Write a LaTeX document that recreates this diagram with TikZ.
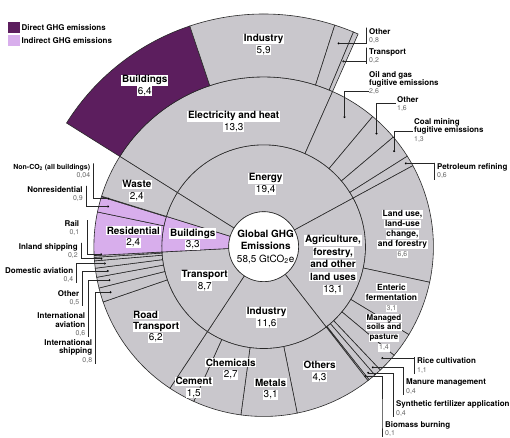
\documentclass[tikz,border=0pt]{standalone}
\usepackage{fontspec}
\setmainfont{TeX Gyre Heros}
\definecolor{secgrey}{RGB}{201,199,204}
\definecolor{dirpurple}{RGB}{92,30,94}
\definecolor{indpurple}{RGB}{216,174,236}
\definecolor{edgeline}{RGB}{40,40,40}
\definecolor{valgrey}{RGB}{105,105,105}
% annular sector: style, inner radius, outer radius, start angle, end angle
\newcommand\annul[5]{\path[#1] (#4:#2) arc[start angle=#4,end angle=#5,radius=#2] -- (#5:#3) arc[start angle=#5,end angle=#4,radius=#3] -- cycle;}
\newcommand\wl[1]{\colorbox{white}{#1}}
\newcommand\valf{\fontsize{7}{8}\selectfont\mdseries\color{valgrey}}
\setlength\fboxsep{0.7pt}
\tikzset{
  sec/.style={fill=secgrey,draw=edgeline,line width=0.6bp},
  secdir/.style={fill=dirpurple,draw=edgeline,line width=0.6bp},
  secind/.style={fill=indpurple,draw=edgeline,line width=0.6bp},
  inl/.style={align=center,inner sep=0pt,font=\fontsize{10}{11.5}\selectfont},
  smin/.style={align=center,inner sep=0pt,font=\fontsize{8.5}{10}\selectfont},
  olab/.style={inner sep=0.5bp,font=\fontsize{8}{8.3}\selectfont\bfseries},
  olabL/.style={olab,align=left,anchor=west},
  olabR/.style={olab,align=right,anchor=east},
  lead/.style={draw=black!85,line width=0.5bp},
  dotm/.style={fill=black,circle,inner sep=0pt,minimum size=2.2bp},
  legsq/.style={minimum width=12bp,minimum height=11bp,inner sep=0pt},
}
\begin{document}
\begin{tikzpicture}[x=1bp,y=1bp]
% page frame, in image coordinates (origin top left, y downwards)
\begin{scope}[shift={(-264,247)},y=-1bp]
  \useasboundingbox (0,0) rectangle (510,436);
  \fill[white] (0,0) rectangle (510,436);
\end{scope}

% ring 1: sectors
\annul{sec}{35}{102}{147.9}{28.5}
\annul{sec}{35}{102}{28.5}{-52.1}
\annul{sec}{35}{102}{-52.1}{-123.5}
\annul{sec}{35}{102}{-123.5}{-177}
\annul{secind}{35}{102}{183}{162.7}
\annul{sec}{35}{102}{162.7}{147.9}

% ring 2: subsectors
\annul{sec}{102}{170}{147.9}{66.05}
\annul{sec}{102}{170}{66.05}{50.05}
\annul{sec}{102}{170}{50.05}{40.2}
\annul{sec}{102}{170}{40.2}{32.2}
\annul{sec}{102}{170}{32.2}{28.5}
\annul{sec}{102}{170}{28.5}{-12.1}
\annul{sec}{102}{170}{-12.1}{-31.2}
\annul{sec}{102}{170}{-31.2}{-39.8}
\annul{sec}{102}{170}{-39.8}{-46.6}
\annul{sec}{102}{170}{-46.6}{-49.1}
\annul{sec}{102}{170}{-49.1}{-51.6}
\annul{sec}{102}{170}{-51.6}{-52.1}
\annul{sec}{102}{170}{-52.1}{-78.6}
\annul{sec}{102}{170}{-78.6}{-97.7}
\annul{sec}{102}{170}{-97.7}{-114.3}
\annul{sec}{102}{170}{-114.3}{-123.5}
\annul{sec}{102}{170}{-123.5}{-161.0}
\annul{sec}{102}{170}{-161.0}{-165.9}
\annul{sec}{102}{170}{-165.9}{-169.6}
\annul{sec}{102}{170}{-169.6}{-172.7}
\annul{sec}{102}{170}{-172.7}{-175.2}
\annul{sec}{102}{170}{-175.2}{-176.4}
\annul{sec}{102}{170}{-176.4}{-177}
\annul{secind}{102}{170}{183}{168.2}
\annul{secind}{102}{170}{168.2}{162.9}
\annul{sec}{102}{170}{162.9}{162.7}
\annul{sec}{102}{170}{162.7}{147.9}

% ring 3: allocation of electricity and heat
\annul{secdir}{170}{233}{147.9}{108.5}
\annul{sec}{170}{233}{108.5}{72.2}
\annul{sec}{170}{233}{72.2}{67.3}
\annul{sec}{170}{233}{67.3}{66.05}

% centre
\node[circle,fill=white,draw=edgeline,line width=0.6bp,minimum size=70bp,inner sep=0pt] (core) at (0,0) {};

% marker dots of the small slices
\node[dotm] (dOthE) at (69.75:217) {};
\node[dotm] (dTraE) at (66.7:202) {};
\node[dotm] (dOil) at (58.05:153) {};
\node[dotm] (dOthF) at (45.1:160) {};
\node[dotm] (dCoal) at (36.2:162) {};
\node[dotm] (dPet) at (30.35:165) {};
\node[dotm] (dRice) at (-43.2:163) {};
\node[dotm] (dMan) at (-47.85:163) {};
\node[dotm] (dSyn) at (-50.35:164) {};
\node[dotm] (dBio) at (-51.85:165) {};
\node[dotm] (dNco) at (162.8:163) {};
\node[dotm] (dNres) at (165.5:161) {};
\node[dotm] (dRail) at (182.7:163) {};
\node[dotm] (dInl) at (184.2:163) {};
\node[dotm] (dDom) at (186.05:160) {};
\node[dotm] (dOthT) at (188.85:158) {};
\node[dotm] (dIav) at (192.25:158) {};
\node[dotm] (dIsh) at (196.55:160) {};

\begin{scope}[shift={(-264,247)},y=-1bp]
  % legend
  \node[legsq,fill=dirpurple] (legdir) at (14,27.5) {};
  \node[legsq,fill=indpurple] (legind) at (14,40.5) {};
  \node[olab,anchor=west] (legdirt) at (21,27.5) {Direct GHG emissions};
  \node[olab,anchor=west] (legindt) at (21,40.5) {Indirect GHG emissions};

  % centre text
  \node[inl,font=\fontsize{10}{12.5}\selectfont] (coretext) at (266,247) {\textbf{Global GHG}\\\textbf{Emissions}\\58,5 GtCO\textsubscript{2}e};

  % labels inside the rings
  \node[inl] (lBuilE) at (145,85.5) {\wl{\textbf{Buildings}}\\\wl{6,4}};
  \node[inl] (lIndE) at (264,44.5) {\wl{\textbf{Industry}}\\\wl{5,9}};
  \node[inl] (lEH) at (234,121.7) {\wl{\textbf{Electricity and heat}}\\\wl{13,3}};
  \node[inl] (lEnergy) at (266,184) {\wl{\textbf{Energy}}\\\wl{19,4}};
  \node[inl,font=\fontsize{10}{12.5}\selectfont] (lAgri) at (333.5,265) {\wl{\textbf{Agriculture,}}\\\wl{\textbf{forestry,}}\\\wl{\textbf{and other}}\\\wl{\textbf{land uses}}\\\wl{13,1}};
  \node[inl] (lBuil) at (193,239.5) {\wl{\textbf{Buildings}}\\\wl{3,3}};
  \node[inl] (lRes) at (133.5,237.5) {\wl{\textbf{Residential}}\\\wl{2,4}};
  \node[inl] (lWaste) at (137,191) {\wl{\textbf{Waste}}\\\wl{2,4}};
  \node[inl] (lTrans) at (205,281) {\wl{\textbf{Transport}}\\\wl{8,7}};
  \node[inl,anchor=west] (lRoadA) at (132.5,315.5) {\wl{\textbf{Road}}};
  \node[inl,anchor=west] (lRoadB) at (132.5,327) {\wl{\textbf{Transport}}};
  \node[inl] (lRoadC) at (156,338.5) {\wl{6,2}};
  \node[inl] (lInd) at (267,318) {\wl{\textbf{Industry}}\\\wl{11,6}};
  \node[inl] (lChem) at (231,369.5) {\wl{\textbf{Chemicals}}\\\wl{2,7}};
  \node[inl] (lCem) at (194,388) {\wl{\textbf{Cement}}\\\wl{1,5}};
  \node[inl] (lMet) at (271,389.5) {\wl{\textbf{Metals}}\\\wl{3,1}};
  \node[inl] (lOthI) at (320,372) {\wl{\textbf{Others}}\\\wl{4,3}};
  \node[smin] (lLand) at (403,234.5) {\wl{\textbf{Land use,}}\\\wl{\textbf{land-use}}\\\wl{\textbf{change,}}\\\wl{\textbf{and forestry}}\\\wl{\valf 6,6}};
  \node[smin] (lEnt) at (392,298) {\wl{\textbf{Enteric}}\\\wl{\textbf{fermentation}}\\\wl{\valf 3,1}};
  \node[smin,font=\fontsize{8}{10}\selectfont] (lSoil) at (384.5,333) {\wl{\textbf{Managed}}\\\wl{\textbf{soils and}}\\\wl{\textbf{pasture}}\\\wl{\valf 1,4}};

  % labels outside the rings
  \node[olabL] (oOthE) at (369,36) {Other\\{\valf 0,8}};
  \node[olabL] (oTraE) at (369,56) {Transport\\{\valf 0,2}};
  \node[olabL] (oOil) at (369,83) {Oil and gas\\fugitive emissions\\{\valf 2,6}};
  \node[olabL] (oOthF) at (397,104) {Other\\{\valf 1,6}};
  \node[olabL] (oCoal) at (414,130.5) {Coal mining\\fugitive emissions\\{\valf 1,3}};
  \node[olabL] (oPet) at (437,171.5) {Petroleum refining\\{\valf 0,6}};
  \node[olabL] (oRice) at (417,366) {Rice cultivation\\{\valf 1,1}};
  \node[olabL] (oMan) at (406,387) {Manure management\\{\valf 0,4}};
  \node[olabL] (oSyn) at (396,409) {Synthetic fertilizer application\\{\valf 0,4}};
  \node[olabL] (oBio) at (385,429.5) {Biomass burning\\{\valf 0,1}};
  \node[olabR,font=\fontsize{7}{8}\selectfont\bfseries] (oNco) at (91,171.5) {Non-CO\textsubscript{2} (all buildings)\\{\valf 0,04}};
  \node[olabR] (oNres) at (83.5,194.5) {Nonresidential\\{\valf 0,9}};
  \node[olabR] (oRail) at (80,228.5) {Rail\\{\valf 0,1}};
  \node[olabR] (oInl) at (78.5,251.5) {Inland shipping\\{\valf 0,2}};
  \node[olabR] (oDom) at (74,275.5) {Domestic aviation\\{\valf 0,4}};
  \node[olabR] (oOthT) at (80,298.5) {Other\\{\valf 0,5}};
  \node[olabR] (oIav) at (86,325) {International\\aviation\\{\valf 0,6}};
  \node[olabR] (oIsh) at (93,352) {International\\shipping\\{\valf 0,8}};
\end{scope}

% leader lines
\draw[lead] (dOthE.center) -| ([xshift=-2.5bp]oOthE.north west) -- ([xshift=-2.5bp]oOthE.south west);
\draw[lead] (dTraE.center) -| ([xshift=-2.5bp]oTraE.north west) -- ([xshift=-2.5bp]oTraE.south west);
\draw[lead] (dPet.center) -| ([xshift=-2.5bp]oPet.north west) -- ([xshift=-2.5bp]oPet.south west);
\draw[lead] (dRice.center) -| ([xshift=-2.5bp]oRice.north west) -- ([xshift=-2.5bp]oRice.south west);
\draw[lead] (dMan.center) -| ([xshift=-2.5bp]oMan.north west) -- ([xshift=-2.5bp]oMan.south west);
\draw[lead] (dSyn.center) -| ([xshift=-2.5bp]oSyn.north west) -- ([xshift=-2.5bp]oSyn.south west);
\draw[lead] (dBio.center) -| ([xshift=-2.5bp]oBio.north west) -- ([xshift=-2.5bp]oBio.south west);
\draw[lead] (dOil.center) |- ([yshift=4bp]oOil.south west);
\draw[lead] (dOthF.center) |- ([yshift=1bp]oOthF.west);
\draw[lead] (dCoal.center) |- ([yshift=-1bp]oCoal.west);
\draw[lead] (dNco.center) -| ([xshift=2.5bp]oNco.north east) -- ([xshift=2.5bp]oNco.south east);
\draw[lead] (dNres.center) -| ([xshift=2.5bp]oNres.north east) -- ([xshift=2.5bp]oNres.south east);
\draw[lead] (dRail.center) -| ([xshift=7bp]oRail.north east);
\draw[lead] (dInl.center) -| ([xshift=2.5bp]oInl.north east) -- ([xshift=2.5bp]oInl.south east);
\draw[lead] (dDom.center) -| ([xshift=2.5bp]oDom.north east) -- ([xshift=2.5bp]oDom.south east);
\draw[lead] (dOthT.center) -| ([xshift=2.5bp]oOthT.north east) -- ([xshift=2.5bp]oOthT.south east);
\draw[lead] (dIav.center) -| ([xshift=2.5bp]oIav.north east) -- ([xshift=2.5bp]oIav.south east);
\draw[lead] (dIsh.center) -| ([xshift=2.5bp]oIsh.north east) -- ([xshift=2.5bp]oIsh.south east);
\end{tikzpicture}
\end{document}
